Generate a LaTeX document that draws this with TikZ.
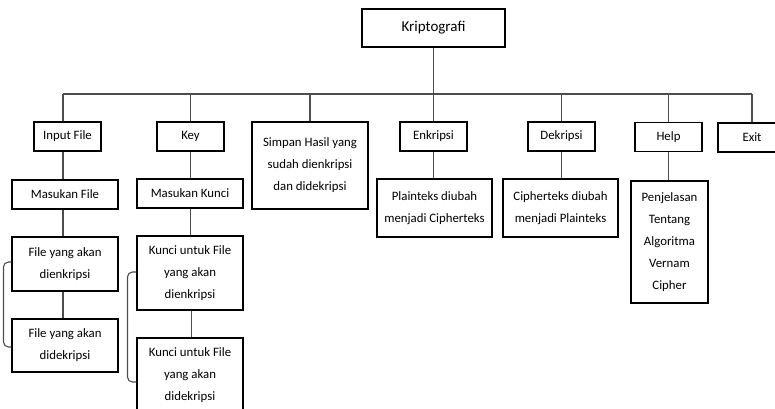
\documentclass[tikz,border=0pt]{standalone}
\usepackage{fontspec}
\setmainfont{Carlito}
\definecolor{linegray}{HTML}{4D4D4D}
\tikzset{
  menubox/.style={
    rectangle, draw=black, line width=1.1pt, fill=white,
    font=\fontsize{12.8}{22}\selectfont, align=center,
    inner sep=1pt, minimum width=#1, minimum height=29pt
  },
  menubox/.default=67pt,
  link/.style={draw=linegray, line width=1.1pt},
  brace/.style={draw=linegray, line width=1.1pt, rounded corners=5pt},
}
\begin{document}
\begin{tikzpicture}[x=1pt, y=-1pt]
  \clip (0,0) rectangle (775,408);

  % Root
  \node[menubox=143pt, minimum height=38pt, font=\fontsize{15}{18}\selectfont] (root) at (433.5,28) {Kriptografi};

  % Menu row
  \node[menubox] (infile) at (67.5,136.5) {Input File};
  \node[menubox] (key) at (190.5,136.5) {Key};
  \node[menubox=116pt, minimum height=87pt] (simpan) at (310,165.5) {Simpan Hasil yang\\sudah dienkripsi\\dan didekripsi};
  \node[menubox] (enk) at (433.5,136.5) {Enkripsi};
  \node[menubox] (dek) at (561.5,136.5) {Dekripsi};
  \node[menubox] (help) at (668.5,137) {Help};
  \node[menubox=68pt] (exit) at (752,137.5) {Exit};

  % Second row
  \node[menubox=106pt] (masfile) at (65,194.5) {Masukan File};
  \node[menubox=106pt] (maskunci) at (190,193.5) {Masukan Kunci};
  \node[menubox=115pt, minimum height=58pt] (plain) at (434.5,208) {Plainteks diubah\\menjadi Cipherteks};
  \node[menubox=115pt, minimum height=58pt] (cipher) at (560.5,208) {Cipherteks diubah\\menjadi Plainteks};
  \node[menubox=77pt, minimum height=122pt] (penjel) at (669.5,242) {Penjelasan\\Tentang\\Algoritma\\Vernam\\Cipher};

  % Third and fourth row
  \node[menubox=106pt, minimum height=54pt] (fenk) at (65,264) {File yang akan\\dienkripsi};
  \node[menubox=106pt, minimum height=53pt] (fdek) at (65,345.5) {File yang akan\\didekripsi};
  \node[menubox=106pt, minimum height=74pt] (kenk) at (190,273) {Kunci untuk File\\yang akan\\dienkripsi};
  \node[menubox=106pt, minimum height=74pt] (kdek) at (190,375) {Kunci untuk File\\yang akan\\didekripsi};

  % Bus
  \coordinate (busL) at (63,94);
  \coordinate (busR) at (752,94);
  \coordinate (spineA) at (63,0);
  \draw[link] (busL) -- (busR);
  \draw[link] (root.south) -- (enk.north);
  \draw[link] (infile.north -| busL) -- (busL);
  \draw[link] (key.north) -- (key.north |- busL);
  \draw[link] (simpan.north) -- (simpan.north |- busL);
  \draw[link] (dek.north) -- (dek.north |- busL);
  \draw[link] (help.north) -- (help.north |- busL);
  \draw[link] (exit.north) -- (busR);

  % Columns
  \draw[link] (infile.south -| spineA) -- (masfile.north -| spineA);
  \draw[link] (masfile.south -| spineA) -- (fenk.north -| spineA);
  \draw[link] (fenk.south -| spineA) -- (fdek.north -| spineA);
  \draw[link] (key.south) -- (maskunci.north -| key.south);
  \draw[link] (maskunci.south -| key.south) -- (kenk.north -| key.south);
  \draw[link] ([xshift=1.5pt]kenk.south) -- ([xshift=1.5pt]kdek.north);
  \draw[link] (enk.south) -- (plain.north -| enk.south);
  \draw[link] (dek.south) -- (cipher.north -| dek.south);
  \draw[link] (help.south) -- (penjel.north -| help.south);

  % Brackets
  \draw[brace] ([yshift=2pt]fenk.west) -- ++(-8,0) |- ([yshift=-1.5pt]fdek.west);
  \draw[brace] ([yshift=1pt]kenk.west) -- ++(-9,0) |- ([yshift=-7pt]kdek.west);
\end{tikzpicture}
\end{document}
